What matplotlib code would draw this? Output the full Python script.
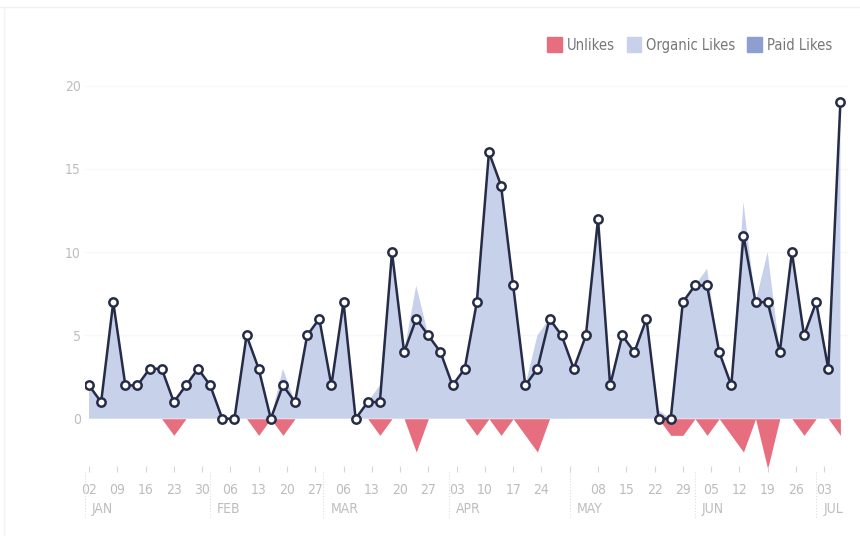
import numpy as np
import pandas as pd
import matplotlib
matplotlib.use("Agg")
import matplotlib.pyplot as plt
import matplotlib.transforms as mtransforms
from matplotlib.lines import Line2D
from matplotlib.patches import Patch

plt.rcParams['font.family'] = ['DejaVu Sans']
plt.rcParams['font.stretch'] = 'condensed'

# data: one point every 3 days from 02 Jan
dates = pd.date_range('2017-01-02', periods=63, freq='3D')

total_likes = [2, 1, 7, 2, 2, 3, 3, 1, 2, 3,
               2, 0, 0, 5, 3, 0, 2, 1, 5, 6,
               2, 7, 0, 1, 1, 10, 4, 6, 5, 4,
               2, 3, 7, 16, 14, 8, 2, 3, 6, 5,
               3, 5, 12, 2, 5, 4, 6, 0, 0, 7,
               8, 8, 4, 2, 11, 7, 7, 4, 10, 5,
               7, 3, 19]

organic_likes = [2, 1, 7, 2, 2, 3, 3, 1, 2, 3,
                 2, 0, 0, 5, 3, 0, 3, 1, 5, 6,
                 2, 7, 0, 1, 2, 10, 4, 8, 5, 4,
                 2, 3, 7, 16, 14, 8, 2, 5, 6, 5,
                 3, 5, 12, 2, 5, 4, 6, 0.5, 0, 7,
                 8, 9, 4, 2, 13, 7, 10, 4, 10, 5,
                 7, 3, 19]

paid_likes = [0] * 63

unlikes = [0, 0, 0, 0, 0, 0, 0, -1, 0, 0,
           0, 0, 0, 0, -1, 0, -1, 0, 0, 0,
           0, 0, 0, 0, -1, 0, 0, -2, 0, 0,
           0, 0, -1, 0, -1, 0, -1, -2, 0, 0,
           0, 0, 0, 0, 0, 0, 0, 0, -1, -1,
           0, -1, 0, -1, -2, 0, -3, 0, 0, -1,
           0, 0, -1]

tick_dates = pd.date_range('2017-01-02', '2017-07-03', freq='7D')
tick_labels = ['' if d.strftime('%m-%d') == '05-01' else d.strftime('%d') for d in tick_dates]
month_starts = pd.date_range('2017-01-01', periods=7, freq='MS')
month_names = ['JAN', 'FEB', 'MAR', 'APR', 'MAY', 'JUN', 'JUL']

red = '#e66e7f'
organic_c = '#c8d1ea'
paid_c = '#8d9ed0'
line_c = '#262c48'
label_c = '#bdbdbd'

fig = plt.figure(figsize=(8.6, 5.36), dpi=100)
ax = fig.add_axes([0.0988, 0.1194, 0.8878, 0.7519])

ax.stackplot(dates, organic_likes, paid_likes, colors=[organic_c, paid_c], lw=0)
ax.fill_between(dates, unlikes, 0, color=red, lw=0)
ax.plot(dates, total_likes, color=line_c, lw=1.8, marker='o', ms=6,
        mfc='white', mec=line_c, mew=1.8, zorder=5)

ax.set_xlim(pd.Timestamp('2017-01-01'), pd.Timestamp('2017-07-09'))
ax.set_ylim(-3.2, 21)

for s in ax.spines.values():
    s.set_visible(False)

ax.set_yticks([0, 5, 10, 15, 20])
ax.tick_params(axis='y', length=0, pad=3, labelsize=10, labelcolor=label_c)
for y in [5, 10, 15, 20]:
    ax.axhline(y, color='#f7f7f7', lw=1, zorder=0)

ax.set_xticks(tick_dates)
ax.set_xticklabels(tick_labels)
ax.tick_params(axis='x', direction='in', length=4, width=0.8, color='#d6d6d6',
               pad=8, labelsize=10, labelcolor=label_c)

trans = mtransforms.blended_transform_factory(ax.transData, ax.transAxes)
for m, name in zip(month_starts, month_names):
    ax.plot([m, m], [0, -0.115], transform=trans, clip_on=False,
            color='#dddddd', lw=0.8, ls=':')
    t = mtransforms.offset_copy(trans, fig=fig, x=7, y=0, units='dots')
    ax.text(m, -0.093, name, transform=t, ha='left', va='center',
            fontsize=10, color=label_c)

handles = [Patch(color=red, label='Unlikes'),
           Patch(color=organic_c, label='Organic Likes'),
           Patch(color=paid_c, label='Paid Likes')]
fig.legend(handles=handles, loc='center right', bbox_to_anchor=(0.983, 0.916),
           ncol=3, frameon=False, fontsize=10.5, labelcolor='#777777',
           handlelength=1.0, handleheight=1.2, handletextpad=0.35, columnspacing=0.8)

# faint panel border at the top and left
fig.add_artist(Line2D([0, 1], [0.987, 0.987], color='#eef1f2', lw=1))
fig.add_artist(Line2D([0.005, 0.005], [0, 0.987], color='#f3f3f3', lw=1))

fig.savefig('out.png', dpi=100)
